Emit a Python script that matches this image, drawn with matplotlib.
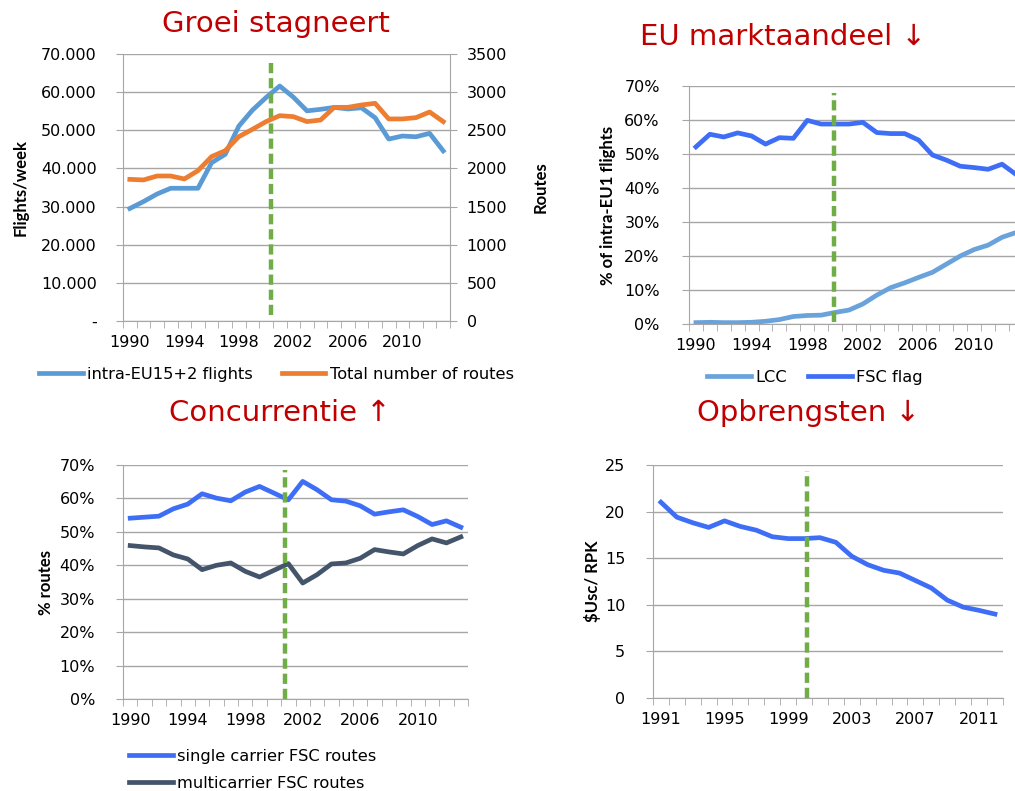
import numpy as np
import matplotlib
matplotlib.use("Agg")
import matplotlib.pyplot as plt

# ---- data ----
jaren_90_13 = list(range(1990, 2014))
jaren_91_12 = list(range(1991, 2013))

vluchten = [29500, 31300, 33300, 34800, 34800, 34800, 41500, 43700, 51100, 55300,
            58600, 61600, 58700, 55100, 55500, 56000, 55600, 55900, 53300, 47700,
            48500, 48300, 49200, 44600]
routes = [1857, 1849, 1901, 1901, 1862, 1971, 2155, 2233, 2417, 2513,
          2614, 2692, 2679, 2614, 2635, 2801, 2801, 2832, 2854, 2649,
          2649, 2666, 2740, 2614]

lcc = [0.4, 0.5, 0.4, 0.4, 0.5, 0.8, 1.3, 2.2, 2.5, 2.6,
       3.4, 4.1, 5.9, 8.5, 10.7, 12.1, 13.7, 15.2, 17.6, 20.0,
       21.9, 23.2, 25.5, 26.9]
fsc_flag = [52.1, 55.8, 55.0, 56.2, 55.3, 52.9, 54.8, 54.6, 59.9, 58.8,
            58.8, 58.8, 59.3, 56.3, 56.0, 56.0, 54.1, 49.7, 48.2, 46.4,
            46.0, 45.5, 47.0, 44.0]

single_fsc = [54.1, 54.4, 54.7, 56.9, 58.3, 61.4, 60.1, 59.3, 61.9, 63.6,
              61.6, 59.6, 65.1, 62.6, 59.6, 59.2, 57.8, 55.3, 56.0, 56.6,
              54.6, 52.2, 53.3, 51.4]
multi_fsc = [45.9, 45.5, 45.2, 43.1, 41.9, 38.7, 40.0, 40.7, 38.2, 36.5,
             38.5, 40.5, 34.7, 37.2, 40.4, 40.7, 42.1, 44.7, 44.0, 43.4,
             45.9, 47.9, 46.7, 48.5]

opbrengst = [21.0, 19.4, 18.8, 18.3, 19.0, 18.4, 18.0, 17.3, 17.1, 17.1,
             17.2, 16.7, 15.2, 14.3, 13.7, 13.4, 12.6, 11.8, 10.5, 9.75,
             9.4, 9.0]

ROOD = '#C00000'
GROEN = '#70AD47'
GRIJS = '#A6A6A6'
SMAL = ['Lato', 'DejaVu Sans']
STREEP = (0, (2.3, 1.1))

plt.rcParams['font.family'] = ['DejaVu Sans']


def basis_as(ax, jaren, ymax, stap, ypad, labelstap=4):
    n = len(jaren)
    x = np.arange(n)
    ax.set_xlim(-0.5, n - 0.5)
    ax.set_ylim(0, ymax)
    ax.set_yticks(np.arange(0, ymax + stap / 2, stap))
    ax.set_xticks(x[::labelstap])
    ax.set_xticklabels([str(j) for j in jaren[::labelstap]])
    ax.set_xticks(np.arange(-0.5, n, 1), minor=True)
    ax.tick_params(axis='x', which='major', length=0, labelsize=11.5, pad=10)
    ax.tick_params(axis='x', which='minor', length=5, color=GRIJS, direction='out')
    ax.tick_params(axis='y', length=5, color=GRIJS, labelsize=11.5, pad=ypad)
    ax.grid(axis='y', color=GRIJS, lw=1)
    ax.set_axisbelow(True)
    for s in ['top', 'right']:
        ax.spines[s].set_visible(False)
    for s in ['left', 'bottom']:
        ax.spines[s].set_color(GRIJS)
    return x


def as_titel(ax, tekst, pad):
    ax.set_ylabel(tekst, fontsize=12, fontweight='bold', labelpad=pad, family=SMAL)


def legenda(handles, anker, loc='center', ncol=2, **kw):
    fig.legend(handles=handles, loc=loc, bbox_to_anchor=anker, ncol=ncol,
               frameon=False, fontsize=11.7, handlelength=2.7,
               handletextpad=0.25, **kw)


fig = plt.figure(figsize=(10.15, 7.91), dpi=100)

# ---- Groei stagneert ----
ax1 = fig.add_axes([0.1212, 0.5942, 0.3222, 0.3375])
x = basis_as(ax1, jaren_90_13, 70000, 10000, ypad=14)
ax1.set_yticklabels(['-'] + [f"{v // 1000}.000" for v in range(10000, 70001, 10000)])
l1, = ax1.plot(x, vluchten, color='#5B9BD5', lw=3.4, label='intra-EU15+2 flights')
ax1.plot([10.34, 10.34], [1600, 68400], color=GROEN, lw=3.2, ls=STREEP)
as_titel(ax1, 'Flights/week', 9)
ax1b = ax1.twinx()
ax1b.set_ylim(0, 3500)
ax1b.set_yticks(np.arange(0, 3501, 500))
ax1b.tick_params(axis='y', length=5, color=GRIJS, labelsize=11.5, pad=7)
for s in ['top', 'left', 'bottom']:
    ax1b.spines[s].set_visible(False)
ax1b.spines['right'].set_color(GRIJS)
l2, = ax1b.plot(x, routes, color='#ED7D31', lw=3.4, label='Total number of routes')
as_titel(ax1b, 'Routes', 18)
legenda([l1, l2], (0.272, 0.527), columnspacing=1.8)
fig.text(0.272, 0.97, 'Groei stagneert', color=ROOD, fontsize=21,
         ha='center', va='center')

# ---- EU marktaandeel ----
ax2 = fig.add_axes([0.6788, 0.5904, 0.329, 0.3009])
x = basis_as(ax2, jaren_90_13, 70, 10, ypad=16)
ax2.set_yticklabels([f"{v}%" for v in range(0, 71, 10)])
h1, = ax2.plot(x, lcc, color='#6AA3DC', lw=3.4, label='LCC')
h2, = ax2.plot(x, fsc_flag, color='#3F6EF6', lw=3.4, label='FSC flag')
ax2.plot([9.9, 9.9], [0.6, 68], color=GROEN, lw=3.2, ls=STREEP)
as_titel(ax2, '% of intra-EU1 flights', 6)
legenda([h1, h2], (0.803, 0.523), columnspacing=1.3)
fig.text(0.771, 0.953, 'EU marktaandeel ↓', color=ROOD, fontsize=21,
         ha='center', va='center')

# ---- Concurrentie ----
ax3 = fig.add_axes([0.1212, 0.1163, 0.3399, 0.2958])
x = basis_as(ax3, jaren_90_13, 70, 10, ypad=15)
ax3.set_yticklabels([f"{v}%" for v in range(0, 71, 10)])
k1, = ax3.plot(x, single_fsc, color='#3F6EF6', lw=3.4, label='single carrier FSC routes')
k2, = ax3.plot(x, multi_fsc, color='#44546A', lw=3.4, label='multicarrier FSC routes')
ax3.plot([10.75, 10.75], [0, 68.5], color=GROEN, lw=3.2, ls=STREEP)
as_titel(ax3, '% routes', 4)
legenda([k1, k2], (0.113, 0.072), loc='upper left', ncol=1, labelspacing=0.75)
fig.text(0.276, 0.478, 'Concurrentie ↑', color=ROOD, fontsize=21,
         ha='center', va='center')

# ---- Opbrengsten ----
ax4 = fig.add_axes([0.6433, 0.1176, 0.3448, 0.2946])
x = basis_as(ax4, jaren_91_12, 25, 5, ypad=15)
ax4.plot(x, opbrengst, color='#3F6EF6', lw=3.4)
ax4.plot([9.2, 9.2], [0, 24.4], color=GROEN, lw=3.2, ls=STREEP)
as_titel(ax4, '$Usc/ RPK', 3)
fig.text(0.796, 0.478, 'Opbrengsten ↓', color=ROOD, fontsize=21,
         ha='center', va='center')

fig.savefig('out.png', dpi=100)
